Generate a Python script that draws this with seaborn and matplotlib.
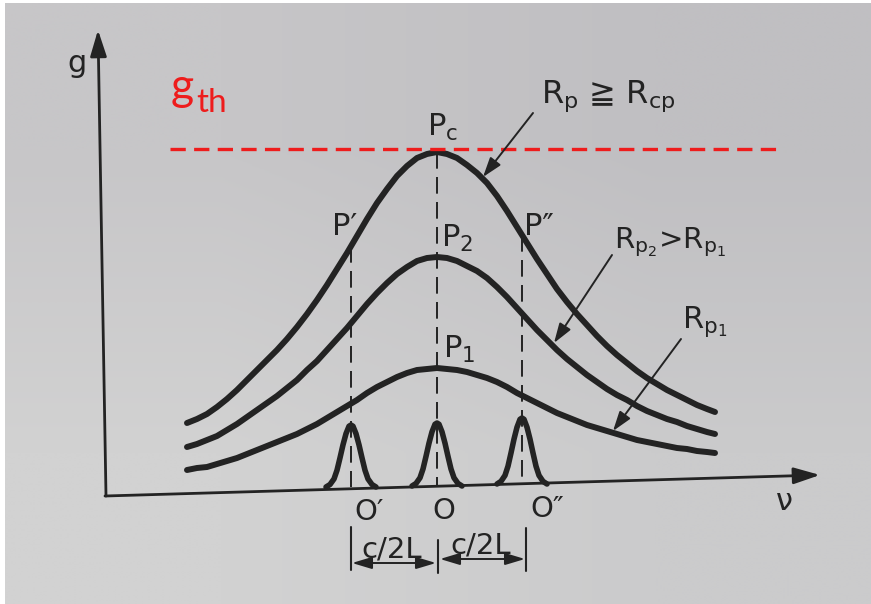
import numpy as np
import pandas as pd
import matplotlib
matplotlib.use("Agg")
import matplotlib.pyplot as plt
import seaborn as sns

# Gain curves g(nu) for three pump rates (horizontal position, row position)
nu_gain = [187, 197, 207, 217, 227, 237, 247, 257, 267, 277, 287, 297, 307, 317,
           327, 337, 347, 357, 367, 377, 387, 397, 407, 417, 427, 437,
           447, 457, 467, 477, 487, 497, 507, 517, 527, 537, 547, 557, 567, 577,
           587, 597, 607, 617, 627, 637, 647, 657, 667, 677, 687, 697, 707, 715]
g_rcp = [423, 419, 414, 407, 399, 390, 380, 370, 360, 350, 339, 327, 314, 300,
         285, 269, 253, 236, 219, 203, 189, 176, 166, 158, 154, 152,
         154, 158, 165, 173, 183, 196, 211, 227, 243, 259, 274, 289, 302, 314,
         325, 336, 346, 355, 363, 371, 378, 384, 390, 395, 400, 405, 409, 412]
g_rp2 = [447, 444, 440, 436, 430, 424, 417, 410, 403, 396, 388, 380, 370, 361,
         350, 339, 328, 316, 304, 293, 283, 274, 267, 261, 258, 257,
         258, 261, 266, 271, 278, 287, 297, 308, 319, 330, 340, 350, 359, 367,
         375, 382, 389, 395, 400, 406, 411, 415, 419, 422, 426, 429, 432, 434]
g_rp1 = [470, 468, 467, 464, 461, 458, 454, 450, 446, 442, 438, 434, 429, 424,
         418, 412, 406, 400, 393, 387, 382, 377, 373, 370, 369, 368,
         369, 370, 372, 375, 378, 382, 387, 393, 398, 403, 408, 413, 417, 421,
         425, 428, 431, 434, 437, 440, 442, 444, 446, 448, 449, 451, 452, 453]

# Cavity modes O', O, O'' : centre, baseline and peak rows
mode_names = ["O'", "O", "O''"]
mode_nu = [351, 437, 522]
mode_base = [487, 486, 484]
mode_peak = [425, 423, 418]
# Shape of one mode line (offset from centre, fraction of peak height)
mode_dx = [-25, -21, -17, -14, -11, -8, -5, -2, 0, 2, 5, 8, 11, 14, 17, 21, 25]
mode_shape = [0, 0.04, 0.13, 0.27, 0.47, 0.68, 0.86, 0.98, 1,
              0.98, 0.86, 0.68, 0.47, 0.27, 0.13, 0.04, 0]

# Threshold gain level
g_th = 149
g_th_span = [170, 782]

INK = "#232323"
RED = "#ee1c1c"

sns.set_theme(style="white")
plt.rcParams["font.family"] = ["DejaVu Sans"]
plt.rcParams["mathtext.fontset"] = "dejavusans"
plt.rcParams["lines.scale_dashes"] = False

fig = plt.figure(figsize=(8.71, 6.04), dpi=100)
fig.patch.set_facecolor("white")
ax = fig.add_axes([0, 0, 1, 1])
ax.set_xlim(0, 871)
ax.set_ylim(604, 0)
ax.axis("off")

# paper background
paper = np.array([[[199, 198, 200], [192, 191, 194]],
                  [[210, 210, 210], [203, 203, 204]]]) / 255.0
ax.imshow(paper, extent=[5, 871, 604, 3], interpolation="bilinear",
          aspect="auto", zorder=0)

# gain curves
n = len(nu_gain)
curves = pd.DataFrame({
    "nu": nu_gain * 3,
    "g": g_rcp + g_rp2 + g_rp1,
    "curve": ["Rcp"] * n + ["Rp2"] * n + ["Rp1"] * n,
})
sns.lineplot(data=curves, x="nu", y="g", hue="curve", palette=[INK] * 3,
             estimator=None, sort=False, legend=False, lw=4.3,
             solid_capstyle="round", solid_joinstyle="round", ax=ax, zorder=3)

# mode lines
rows = []
for name, c, b, p in zip(mode_names, mode_nu, mode_base, mode_peak):
    for dx, f in zip(mode_dx, mode_shape):
        rows.append({"nu": c + dx, "g": b - f * (b - p), "mode": name})
modes = pd.DataFrame(rows)
sns.lineplot(data=modes, x="nu", y="g", hue="mode", palette=[INK] * 3,
             estimator=None, sort=False, legend=False, lw=4.0,
             solid_capstyle="round", solid_joinstyle="round", ax=ax, zorder=3)

# dashed verticals through the mode frequencies, up to the top gain curve
tops = [np.interp(c, nu_gain, g_rcp) for c in mode_nu]
for c, b, t in zip(mode_nu, mode_base, tops):
    ax.plot([c, c], [t, b], color=INK, lw=1.4, ls=(0, (12, 6)), zorder=2)

# threshold
ax.plot(g_th_span, [g_th, g_th], color=RED, lw=2.4, ls=(0, (11, 6)), zorder=4)

# axes with arrows
axis_head = "-|>,head_length=0.8,head_width=0.25"
ax.annotate("", xy=(98, 30), xytext=(106, 496),
            arrowprops=dict(arrowstyle=axis_head, lw=2.0, color=INK,
                            mutation_scale=20, shrinkA=0, shrinkB=0))
ax.annotate("", xy=(820, 475), xytext=(105, 496),
            arrowprops=dict(arrowstyle=axis_head, lw=2.0, color=INK,
                            mutation_scale=20, shrinkA=0, shrinkB=0))

# leader arrows to the curves
lead = "-|>,head_length=0.6,head_width=0.2"
for start, end in [((533, 113), (483, 177)),
                   ((612, 255), (554, 343)),
                   ((681, 339), (613, 431))]:
    ax.annotate("", xy=end, xytext=start,
                arrowprops=dict(arrowstyle=lead, lw=1.4, color=INK,
                                mutation_scale=20, shrinkA=0, shrinkB=0),
                zorder=5)

# spacing marks c/2L
for x, y0, y1 in [(351, 527, 570), (438, 540, 573), (526, 528, 571)]:
    ax.plot([x, x], [y0, y1], color=INK, lw=1.5)
dbl = "<|-|>,head_length=0.6,head_width=0.18"
ax.annotate("", xy=(436, 563), xytext=(352, 563),
            arrowprops=dict(arrowstyle=dbl, lw=1.4, color=INK,
                            mutation_scale=20, shrinkA=0, shrinkB=0))
ax.annotate("", xy=(525, 559), xytext=(440, 559),
            arrowprops=dict(arrowstyle=dbl, lw=1.4, color=INK,
                            mutation_scale=20, shrinkA=0, shrinkB=0))

# labels
def label(x, y, s, size=20, color=INK, family=None):
    kw = {"family": family} if family else {}
    ax.text(x, y, s, fontsize=size, color=color, ha="left", va="baseline", **kw)

label(67, 72, "g", 22)
label(171, 100, "g", 32, RED, "Lato")
label(196, 112, "th", 24, RED, "Lato")
label(427, 136, r"P$_\mathregular{c}$", 22)
label(332, 235, "P\u2032", 22)
label(441, 247, r"P$_\mathregular{2}$", 22)
label(524, 235, "P\u2033", 22)
label(443, 358, r"P$_\mathregular{1}$", 22)
label(541, 103, r"R$_\mathregular{p}$ ≧ R$_\mathregular{cp}$", 23)
label(614, 248, r"R$_\mathregular{p_2}$>R$_\mathregular{p_1}$", 21)
label(682, 328, r"R$_\mathregular{p_1}$", 22)
label(354, 520, "O\u2032", 21)
label(432, 519, "O", 21)
label(530, 517, "O\u2033", 21)
label(361, 557, "c/2L", 21)
label(450, 554, "c/2L", 21)
label(776, 510, "\u03bd", 22)

fig.savefig("out.png", dpi=100, facecolor=fig.get_facecolor())
